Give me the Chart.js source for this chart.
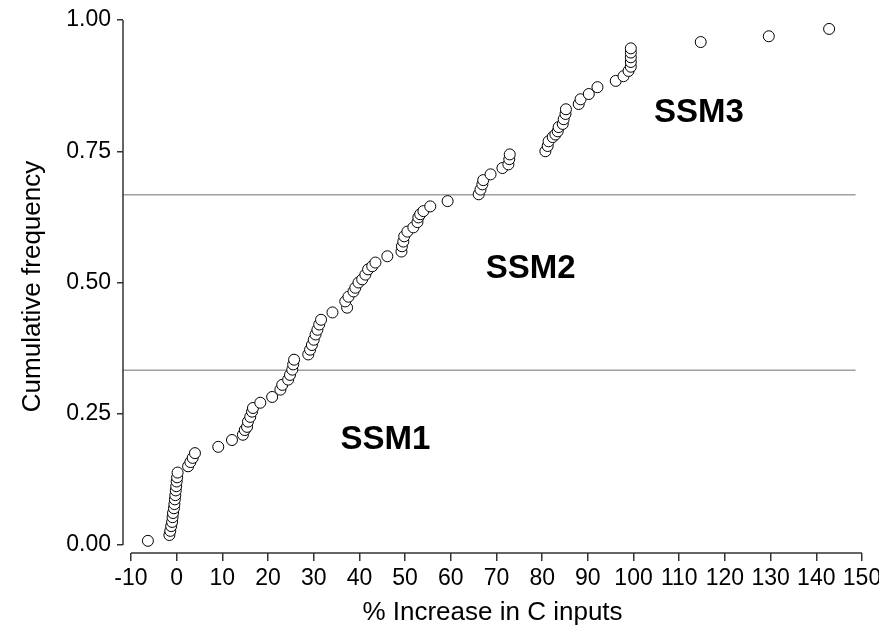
<!DOCTYPE html>
<html>

<head>
    <meta charset="utf-8">
    <title>Cumulative frequency</title>
    <style>
        body { margin: 0; background: #fff; }
    </style>
</head>

<body>
    <canvas id="myChart1" width="879" height="631"></canvas>
    <script src="https://cdn.jsdelivr.net/npm/chart.js@4.4.6/dist/chart.umd.min.js"></script>
    <script>
        // tick labels
        const xTicks = [-10, 0, 10, 20, 30, 40, 50, 60, 70, 80, 90, 100, 110, 120, 130, 140, 150]
        const yTicks = [0, 0.25, 0.5, 0.75, 1]

        // % increase in C inputs (in plotting order)
        const increase = [
            -6.3,
            -1.6, -1.4, -1.2, -1.0, -0.9, -0.8, -0.6, -0.5, -0.4, -0.3, -0.2, -0.1, 0.0, 0.1, 0.2,
            2.5, 3.0, 3.5, 4.0,
            9.1, 12.1,
            14.5, 14.9, 15.4, 15.6, 16.1, 16.5, 16.7,
            18.3, 20.9, 22.7, 23.1,
            24.4, 24.8, 25.3, 25.5, 25.7,
            28.8, 29.2, 29.6, 30.0, 30.4, 30.8, 31.2, 31.6,
            34.1, 37.3, 36.9, 37.6,
            38.7, 39.1, 39.8, 40.6, 41.3, 41.9, 42.8, 43.5,
            46.1,
            49.2, 49.3, 49.6, 49.8, 50.5, 51.8, 52.7, 52.9, 53.3, 54.0, 55.5, 59.3,
            66.1, 66.5, 66.9, 67.1, 68.7, 71.3, 72.6, 72.8, 72.9,
            80.7, 81.2, 81.4, 82.3, 82.9, 83.4, 83.6, 84.5, 84.7, 85.1, 85.2,
            88.0, 88.4, 90.2, 92.1, 96.1, 97.8, 98.9,
            99.4, 99.4, 99.4, 99.4, 99.4,
            114.7, 129.6, 142.8,
        ]
        // cumulative frequency of each point
        const cumFreq = [
            0.008,
            0.019, 0.027, 0.036, 0.044, 0.053, 0.061, 0.070, 0.078, 0.087, 0.095, 0.104, 0.112, 0.121, 0.129, 0.138,
            0.150, 0.158, 0.166, 0.175,
            0.187, 0.200,
            0.210, 0.219, 0.225, 0.235, 0.244, 0.254, 0.261,
            0.271, 0.282, 0.296, 0.305,
            0.315, 0.324, 0.334, 0.344, 0.353,
            0.363, 0.372, 0.381, 0.391, 0.401, 0.410, 0.420, 0.429,
            0.443, 0.452, 0.464, 0.473,
            0.483, 0.490, 0.500, 0.506, 0.515, 0.525, 0.531, 0.538,
            0.550,
            0.559, 0.569, 0.578, 0.588, 0.597, 0.605, 0.615, 0.624, 0.630, 0.636, 0.645, 0.655,
            0.668, 0.677, 0.687, 0.695, 0.706, 0.718, 0.725, 0.735, 0.744,
            0.750, 0.760, 0.769, 0.777, 0.782, 0.788, 0.796, 0.802, 0.811, 0.821, 0.830,
            0.840, 0.849, 0.859, 0.872, 0.884, 0.893, 0.903,
            0.911, 0.920, 0.929, 0.938, 0.946,
            0.958, 0.969, 0.983,
        ]

        // class boundaries and class names
        const thresholds = [0.333, 0.667]
        const classNames = ["SSM1", "SSM2", "SSM3"]

        document.addEventListener("DOMContentLoaded", () => {
            const FONT = "'Liberation Sans', Arial, sans-serif"
            const namePos = [[45.7, 0.2], [77.5, 0.525], [114.3, 0.823]]

            const overlay = {
                id: "overlay",
                beforeDatasetsDraw(chart) {
                    const { ctx, chartArea, scales: { x, y } } = chart
                    ctx.save()
                    // class boundary lines
                    ctx.strokeStyle = "#a0a0a0"
                    ctx.lineWidth = 1.5
                    thresholds.forEach(t => {
                        const py = y.getPixelForValue(t)
                        ctx.beginPath()
                        ctx.moveTo(chartArea.left, py)
                        ctx.lineTo(x.getPixelForValue(148.6), py)
                        ctx.stroke()
                    })
                    // detached axis lines
                    ctx.strokeStyle = "#333"
                    ctx.lineWidth = 1.5
                    ctx.beginPath()
                    ctx.moveTo(x.getPixelForValue(xTicks[0]), chartArea.bottom)
                    ctx.lineTo(x.getPixelForValue(xTicks[xTicks.length - 1]), chartArea.bottom)
                    ctx.moveTo(chartArea.left, y.getPixelForValue(yTicks[0]))
                    ctx.lineTo(chartArea.left, y.getPixelForValue(yTicks[yTicks.length - 1]))
                    ctx.stroke()
                    // class names
                    ctx.fillStyle = "#000"
                    ctx.font = "bold 33px " + FONT
                    ctx.textAlign = "center"
                    ctx.textBaseline = "middle"
                    classNames.forEach((name, i) => {
                        ctx.fillText(name, x.getPixelForValue(namePos[i][0]), y.getPixelForValue(namePos[i][1]))
                    })
                    ctx.restore()
                },
            }

            const config = {
                type: "scatter",
                data: {
                    datasets: [{
                        data: increase.map((v, i) => ({ x: v, y: cumFreq[i] })),
                        pointStyle: "circle",
                        pointRadius: 5.5,
                        pointBorderWidth: 1,
                        pointBorderColor: "#000",
                        pointBackgroundColor: "#fff",
                    }],
                },
                options: {
                    responsive: false,
                    animation: false,
                    devicePixelRatio: 1,
                    layout: {
                        padding: { top: 20, right: 17, bottom: 0, left: 0 },
                    },
                    plugins: {
                        legend: { display: false },
                        tooltip: { enabled: false },
                    },
                    scales: {
                        x: {
                            type: "linear",
                            min: -11.75,
                            max: 150,
                            afterBuildTicks: s => { s.ticks = xTicks.map(v => ({ value: v })) },
                            // let the last label run off the edge like the original
                            afterFit: s => { s.height = 78; s.paddingRight = 0 },
                            grid: { drawOnChartArea: false, tickLength: 8, color: "#333", lineWidth: 1.5 },
                            border: { display: false },
                            ticks: {
                                autoSkip: false,
                                maxRotation: 0,
                                padding: 4,
                                color: "#000",
                                font: { family: FONT, size: 23 },
                            },
                            title: {
                                display: true,
                                text: "% Increase in C inputs",
                                color: "#000",
                                font: { family: FONT, size: 26 },
                                padding: { top: 0, bottom: 3 },
                            },
                        },
                        y: {
                            type: "linear",
                            min: -0.0152,
                            max: 1,
                            afterBuildTicks: s => { s.ticks = yTicks.map(v => ({ value: v })) },
                            afterFit: s => { s.width = 123 },
                            grid: { drawOnChartArea: false, tickLength: 6, color: "#333", lineWidth: 1.5 },
                            border: { display: false },
                            ticks: {
                                padding: 6,
                                color: "#000",
                                font: { family: FONT, size: 23 },
                                callback: v => v.toFixed(2),
                            },
                            title: {
                                display: true,
                                text: "Cumulative frequency",
                                color: "#000",
                                font: { family: FONT, size: 26 },
                                padding: { top: 17, bottom: 0 },
                            },
                        },
                    },
                },
                plugins: [overlay],
            }
            new Chart(document.getElementById("myChart1"), config)
        })
    </script>
</body>

</html>
